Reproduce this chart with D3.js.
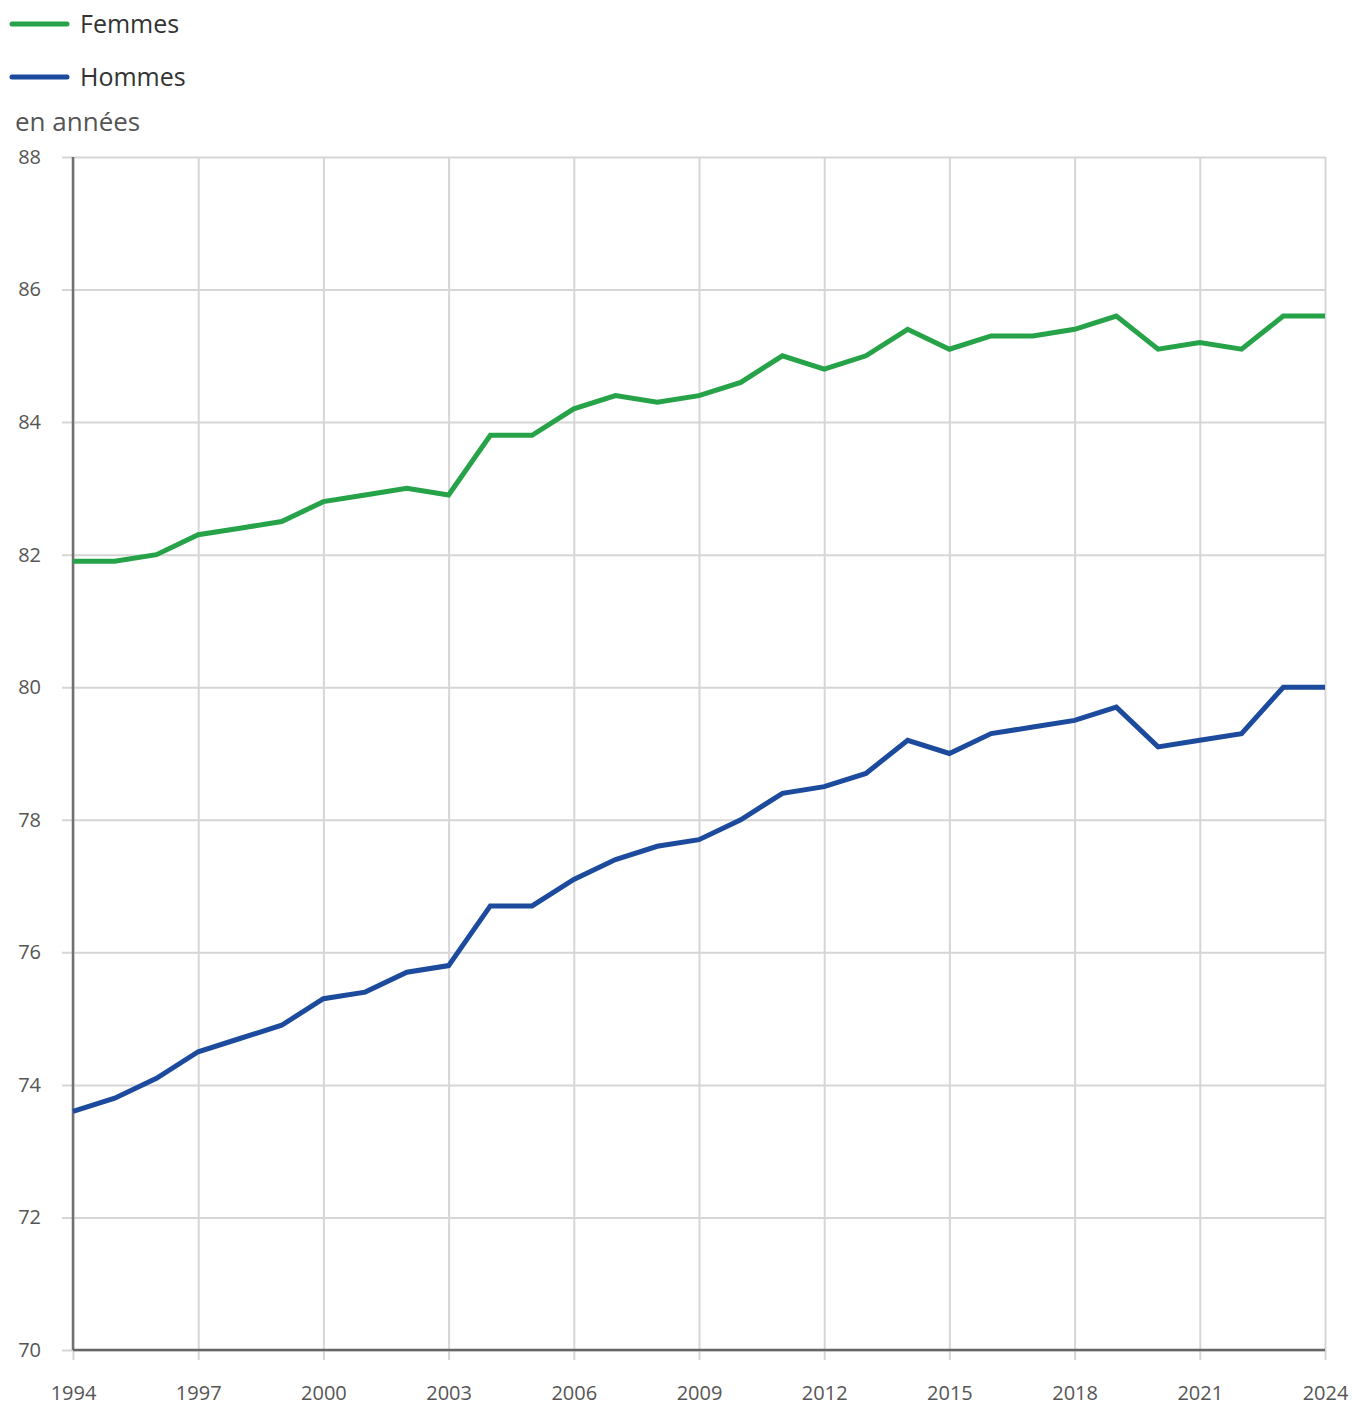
<!DOCTYPE html>
<meta charset="utf-8">
<style>
body { margin: 0; background: #fff; }
svg { display: block; font-family: "Open Sans", sans-serif; }
.grid line { stroke: #d6d6d6; stroke-width: 2; }
.grid .domain { display: none; }
.tick text { fill: #555; }
</style>
<svg width="1352" height="1405"></svg>
<script src="https://d3js.org/d3.v7.min.js"></script>
<script>

var years = d3.range(1994, 2025);
var femmes = [81.9, 81.9, 82.0, 82.3, 82.4, 82.5, 82.8, 82.9, 83.0, 82.9,
              83.8, 83.8, 84.2, 84.4, 84.3, 84.4, 84.6, 85.0, 84.8, 85.0,
              85.4, 85.1, 85.3, 85.3, 85.4, 85.6, 85.1, 85.2, 85.1, 85.6, 85.6];
var hommes = [73.6, 73.8, 74.1, 74.5, 74.7, 74.9, 75.3, 75.4, 75.7, 75.8,
              76.7, 76.7, 77.1, 77.4, 77.6, 77.7, 78.0, 78.4, 78.5, 78.7,
              79.2, 79.0, 79.3, 79.4, 79.5, 79.7, 79.1, 79.2, 79.3, 80.0, 80.0];
var xTicks = [1994, 1997, 2000, 2003, 2006, 2009, 2012, 2015, 2018, 2021, 2024];
var yTicks = [70, 72, 74, 76, 78, 80, 82, 84, 86, 88];

var series = [
  {name: "Femmes", values: femmes, color: "#26a348"},
  {name: "Hommes", values: hommes, color: "#1c4a9c"}
];

var svg = d3.select("svg"),
    margin = {top: 157, right: 27, bottom: 55, left: 73},
    width = +svg.attr("width") - margin.left - margin.right,
    height = +svg.attr("height") - margin.top - margin.bottom,
    g = svg.append("g").attr("transform", "translate(" + margin.left + "," + margin.top + ")");

var x = d3.scaleLinear().domain([1994, 2024]).range([0, width]);
var y = d3.scaleLinear().domain([70, 88]).range([height, 0]);

// grid, horizontal (with small stub left of the axis)
g.append("g")
    .attr("class", "grid")
    .call(d3.axisLeft(y).tickValues(yTicks).tickSize(-width - 11).tickFormat(""))
    .attr("transform", "translate(-11,0)");

// grid, vertical (reaching slightly below the x axis)
g.append("g")
    .attr("class", "grid")
    .attr("transform", "translate(0," + (height + 10) + ")")
    .call(d3.axisBottom(x).tickValues(xTicks).tickSize(-height - 10).tickFormat(""));

// y labels
g.append("g")
    .call(d3.axisLeft(y).tickValues(yTicks).tickSize(0).tickPadding(32))
    .call(function(a) { a.select(".domain").remove(); })
    .selectAll("text")
    .attr("font-size", 20)
    .attr("font-family", "Open Sans, sans-serif");

// x labels
g.append("g")
    .attr("transform", "translate(0," + height + ")")
    .call(d3.axisBottom(x).tickValues(xTicks).tickFormat(d3.format("d")).tickSize(0).tickPadding(36))
    .call(function(a) { a.select(".domain").remove(); })
    .selectAll("text")
    .attr("font-size", 20)
    .attr("font-family", "Open Sans, sans-serif");

// axis lines
g.append("line")
    .attr("x1", 0).attr("x2", 0).attr("y1", 0).attr("y2", height)
    .attr("stroke", "#707070").attr("stroke-width", 2.5);
g.append("line")
    .attr("x1", 0).attr("x2", width).attr("y1", height).attr("y2", height)
    .attr("stroke", "#666").attr("stroke-width", 2.5);

var line = d3.line()
    .x(function(d, i) { return x(years[i]); })
    .y(function(d) { return y(d); });

g.selectAll(".serie")
  .data(series)
  .enter().append("path")
    .attr("class", "serie")
    .attr("fill", "none")
    .attr("stroke", function(d) { return d.color; })
    .attr("stroke-width", 5)
    .attr("stroke-linejoin", "miter")
    .attr("d", function(d) { return line(d.values); });

// legend
var legend = svg.append("g")
  .selectAll("g")
  .data(series)
  .enter().append("g")
    .attr("transform", function(d, i) { return "translate(0," + (24 + i * 53) + ")"; });

legend.append("line")
    .attr("x1", 12).attr("x2", 67)
    .attr("stroke", function(d) { return d.color; })
    .attr("stroke-width", 5)
    .attr("stroke-linecap", "round");

legend.append("text")
    .attr("x", 80)
    .attr("dy", "0.35em")
    .attr("font-size", 25)
    .attr("fill", "#333")
    .text(function(d) { return d.name; });

svg.append("text")
    .attr("x", 15)
    .attr("y", 131)
    .attr("font-size", 26)
    .attr("fill", "#555")
    .text("en années");

</script>
